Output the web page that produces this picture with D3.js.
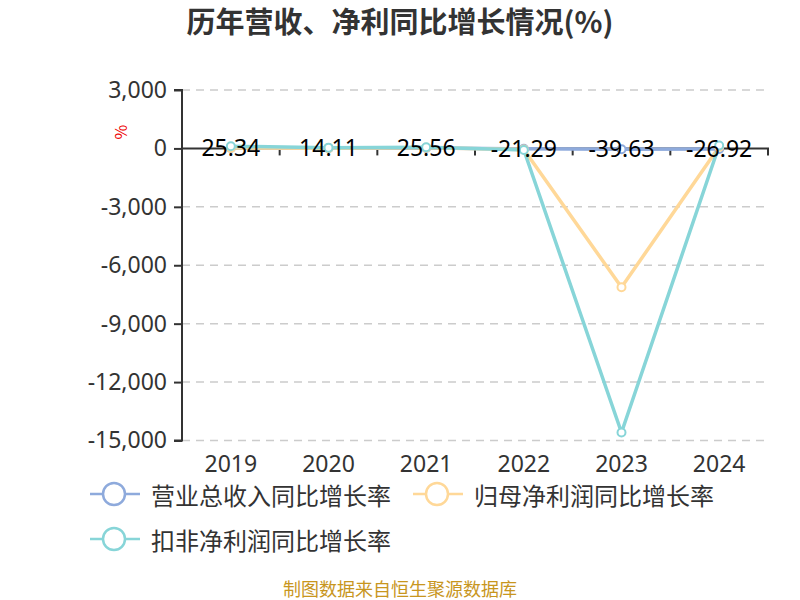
<!DOCTYPE html>
<html><head><meta charset="utf-8">
<script src="https://cdn.jsdelivr.net/npm/d3@7"></script>
<style>body{margin:0;background:#fff}svg{display:block}text{font-family:"Noto Sans CJK SC","Noto Sans",sans-serif}</style>
</head><body><svg id="c" width="800" height="600"></svg>
<script>
const years = ["2019","2020","2021","2022","2023","2024"];
const revenueGrowth = [25.34, 14.11, 25.56, -21.29, -39.63, -26.92];
const netProfitGrowth = [20, 15, 30, -60, -7130, 80];
const deductedProfitGrowth = [110, 40, 60, -80, -14590, 150];
const yTicks = [3000, 0, -3000, -6000, -9000, -12000, -15000];
const seriesNames = ["营业总收入同比增长率", "归母净利润同比增长率", "扣非净利润同比增长率"];
const colors = ["#8eaadc", "#ffd898", "#87d5d8"];

const svg = d3.select("#c");
const x = d3.scaleBand().domain(years).range([182, 768]);
const y = d3.scaleLinear().domain([-15000, 3000]).range([440.5, 90]);
const cx = d => x(d) + x.bandwidth() / 2;
const fmt = d3.format(",");
const numFmt = d => fmt(d).replace("\u2212", "-");

svg.append("text").attr("x", 400).attr("y", 33).attr("text-anchor", "middle")
  .attr("font-size", 29).attr("font-weight", "bold").attr("fill", "#333")
  .text("历年营收、净利同比增长情况(%)");

// grid
svg.append("g").selectAll("line").data(yTicks.filter(t => t !== 0)).join("line")
  .attr("x1", 182).attr("x2", 768).attr("y1", d => y(d)).attr("y2", d => y(d))
  .attr("stroke", "#ccc").attr("stroke-width", 1.5).attr("stroke-dasharray", "8,6");

// y axis
const yAxis = d3.axisLeft(y).tickValues(yTicks).tickSize(8).tickPadding(7).tickFormat(numFmt);
const gy = svg.append("g").attr("transform", "translate(182,0)").call(yAxis);
gy.select(".domain").attr("stroke", "#333").attr("stroke-width", 2).attr("d", `M-8,${y(3000)}H0V${y(-15000)}H-8`);
gy.selectAll(".tick line").attr("stroke", "#333").attr("stroke-width", 2);
gy.selectAll(".tick text").attr("font-size", 23).attr("fill", "#333")
  .style("font-family", '"Noto Sans","Noto Sans CJK SC",sans-serif');

svg.append("text").attr("transform", "translate(120,132) rotate(-90)")
  .attr("text-anchor", "middle").attr("dominant-baseline", "central")
  .attr("font-size", 16).attr("fill", "#e00").text("%");

// x axis on zero
const xAxis = d3.axisBottom(x).tickSize(7).tickFormat("");
const gx = svg.append("g").attr("transform", `translate(0,${y(0)})`).call(xAxis);
gx.select(".domain").attr("stroke", "#333").attr("stroke-width", 2).attr("d", `M182,0H768V7`);
gx.selectAll(".tick").attr("transform", d => `translate(${x(d)},0)`);
gx.selectAll(".tick line").attr("stroke", "#333").attr("stroke-width", 2)
  .filter(d => d === "2019").remove();

svg.append("g").selectAll("text").data(years).join("text")
  .attr("x", d => cx(d)).attr("y", 472).attr("text-anchor", "middle")
  .attr("font-size", 23).attr("fill", "#333")
  .style("font-family", '"Noto Sans","Noto Sans CJK SC",sans-serif').text(d => d);

// lines
const all = [revenueGrowth, netProfitGrowth, deductedProfitGrowth];
const line = d3.line().x((d, i) => cx(years[i])).y(d => y(d));
all.forEach((s, k) => {
  svg.append("path").datum(s).attr("d", line).attr("fill", "none")
    .attr("stroke", colors[k]).attr("stroke-width", 3.5).attr("stroke-linejoin", "round");
});
all.forEach((s, k) => {
  svg.append("g").selectAll("circle").data(s).join("circle")
    .attr("cx", (d, i) => cx(years[i])).attr("cy", d => y(d)).attr("r", 4)
    .attr("fill", "#fff").attr("stroke", colors[k]).attr("stroke-width", 2);
});

// labels
svg.append("g").selectAll("text").data(revenueGrowth).join("text")
  .attr("x", (d, i) => cx(years[i])).attr("y", d => y(d) - 1)
  .attr("text-anchor", "middle").attr("dominant-baseline", "central")
  .attr("font-size", 23).attr("fill", "#000")
  .style("font-family", '"Noto Sans","Noto Sans CJK SC",sans-serif').text(d => d.toFixed(2));

// legend
const legendPos = [[90, 494], [413, 494], [90, 539]];
seriesNames.forEach((n, k) => {
  const [lx, ly] = legendPos[k];
  const g = svg.append("g");
  g.append("line").attr("x1", lx).attr("x2", lx + 50).attr("y1", ly).attr("y2", ly)
    .attr("stroke", colors[k]).attr("stroke-width", 2.5);
  g.append("circle").attr("cx", lx + 24).attr("cy", ly).attr("r", 11)
    .attr("fill", "#fff").attr("stroke", colors[k]).attr("stroke-width", 2.5);
  g.append("text").attr("x", lx + 61).attr("y", ly).attr("dominant-baseline", "central")
    .attr("font-size", 24).attr("fill", "#333").text(n);
});

svg.append("text").attr("x", 400).attr("y", 596).attr("text-anchor", "middle")
  .attr("font-size", 18).attr("fill", "#c8961e").text("制图数据来自恒生聚源数据库");
</script></body></html>
